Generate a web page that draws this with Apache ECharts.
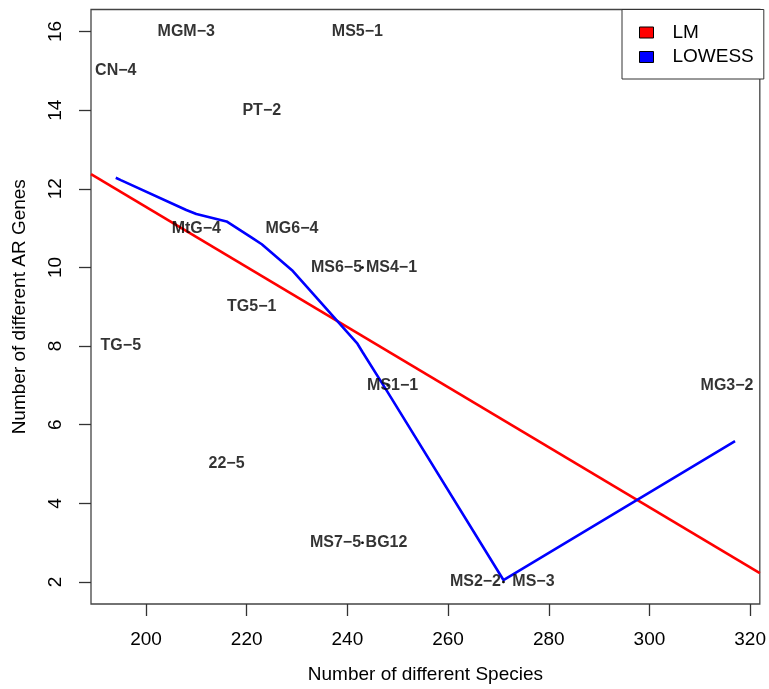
<!DOCTYPE html>
<html>
<head>
<meta charset="utf-8">
<script src="https://cdn.jsdelivr.net/npm/echarts@6/dist/echarts.min.js"></script>
<style>
html,body{margin:0;padding:0;background:#fff;overflow:hidden;}
#chart{width:769px;height:689px;}
</style>
</head>
<body>
<div id="chart"></div>
<script>
// ---- data ----
const sampleNames = ['CN−4','TG−5','MGM−3','MtG−4','22−5','TG5−1','PT−2','MG6−4','MS5−1','MS6−5','MS4−1','MS7−5','BG12','MS1−1','MS2−2','MS−3','MG3−2'];
const speciesCount = [194,195,208,210,216,221,223,229,242,243,243,243,243,248,271,271,317];
const arGenes      = [15,8,16,11,5,9,14,11,16,10,10,3,3,7,2,2,7];
// label displacement (px) used to separate overlapping labels (style only)
const labelShiftPx = [0,0,0,0,0,0,0,0,0,-26,29,-27,24,5,-28,30,-8];
const showDot      = [0,0,0,0,0,0,0,0,0,1,1,1,1,1,1,1,0];

const lowessX = [194,195,208,210,216,221,223,229,242,243,248,271,317];
const lowessY = [12.28,12.22,11.46,11.36,11.17,10.76,10.59,9.93,8.06,7.85,6.83,2.05,5.58];

const lmIntercept = 26.82;
const lmSlope = -0.0764;

const xTicks = [200,220,240,260,280,300,320];
const yTicks = [2,4,6,8,10,12,14,16];

// ---- axis ranges (R style 4% padding) ----
const xMinD = Math.min(...speciesCount), xMaxD = Math.max(...speciesCount);
const yMinD = Math.min(...arGenes), yMaxD = Math.max(...arGenes);
const xPad = 0.04*(xMaxD-xMinD), yPad = 0.04*(yMaxD-yMinD);
const xMin = xMinD - xPad, xMax = xMaxD + xPad;
const yMin = yMinD - yPad, yMax = yMaxD + yPad;

const FONT = '"Liberation Sans", Arial, Helvetica, sans-serif';

const pointData = sampleNames.map((n,i)=>({
  name:n, value:[speciesCount[i], arGenes[i]],
  symbolSize: showDot[i] ? 2.5 : 0,
  label:{offset:[labelShiftPx[i],0]}
}));
const lowessData = lowessX.map((x,i)=>[x, lowessY[i]]);
const lmData = [[xMin, lmIntercept+lmSlope*xMin],[xMax, lmIntercept+lmSlope*xMax]];

const chart = echarts.init(document.getElementById('chart'), null, {renderer:'canvas'});
chart.setOption({
  animation:false,
  backgroundColor:'#fff',
  textStyle:{fontFamily:FONT},
  grid:{left:91, right:6.3, top:9.5, bottom:78, show:true, borderColor:'#444', borderWidth:1.3, containLabel:false},
  legend:{
    orient:'vertical', left:622, top:9.5,
    padding:[13,10,12,17],
    itemWidth:14, itemHeight:11, itemGap:4.5,
    borderColor:'#333', borderWidth:1, backgroundColor:'#fff',
    textStyle:{fontFamily:FONT, fontSize:19, lineHeight:20, color:'#000', padding:[0,0,0,14]},
    data:[
      {name:'LM', icon:'rect', itemStyle:{color:'#ff0000', borderColor:'#000', borderWidth:1}},
      {name:'LOWESS', icon:'rect', itemStyle:{color:'#0000ff', borderColor:'#000', borderWidth:1}}
    ]
  },
  xAxis:{
    type:'value', min:xMin, max:xMax,
    name:'Number of different Species', nameLocation:'middle', nameGap:61,
    nameTextStyle:{fontFamily:FONT, fontSize:19, color:'#000'},
    axisLine:{show:false},
    axisTick:{show:true, length:12, lineStyle:{color:'#333', width:1.3}, customValues:xTicks},
    axisLabel:{fontFamily:FONT, fontSize:19, color:'#000', margin:26, customValues:xTicks},
    splitLine:{show:false}
  },
  yAxis:{
    type:'value', min:yMin, max:yMax,
    name:'Number of different AR Genes', nameLocation:'middle', nameGap:62,
    nameTextStyle:{fontFamily:FONT, fontSize:19, color:'#000'},
    axisLine:{show:false},
    axisTick:{show:true, length:12, lineStyle:{color:'#333', width:1.3}, customValues:yTicks},
    axisLabel:{fontFamily:FONT, fontSize:19, color:'#000', margin:26, rotate:90, customValues:yTicks},
    splitLine:{show:false}
  },
  series:[
    {
      name:'samples', type:'scatter', data:pointData,
      symbol:'circle', itemStyle:{color:'#000'},
      label:{show:true, position:'inside', formatter:p=>p.name, fontFamily:FONT, fontWeight:'bold', fontSize:16, color:'#000'},
      z:5
    },
    {
      name:'LM', type:'line', data:lmData, showSymbol:false, symbol:'none',
      lineStyle:{color:'#ff0000', width:2.6}, itemStyle:{color:'#ff0000'}, z:3
    },
    {
      name:'LOWESS', type:'line', data:lowessData, showSymbol:false, symbol:'none',
      lineStyle:{color:'#0000ff', width:2.6}, itemStyle:{color:'#0000ff'}, z:4
    }
  ]
});
</script>
</body>
</html>
